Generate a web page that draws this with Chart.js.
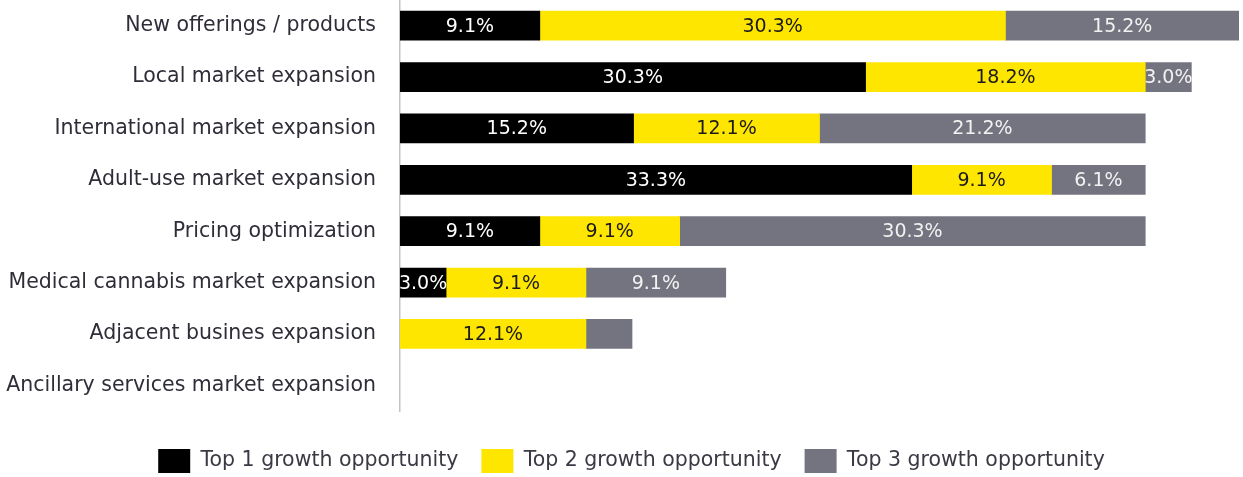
<!DOCTYPE html>
<html>
<head>
<meta charset="utf-8">
<script src="https://cdn.jsdelivr.net/npm/chart.js@4.4.1/dist/chart.umd.min.js"></script>
<style>
  html, body { margin:0; padding:0; background:#fff; }
  #wrap { width:1243px; height:477px; }
</style>
</head>
<body>
<div id="wrap"><canvas id="growth"></canvas></div>
<script>
// ── Growth opportunities, stacked horizontal bars ──
var categories = [
  'New offerings / products',
  'Local market expansion',
  'International market expansion',
  'Adult-use market expansion',
  'Pricing optimization',
  'Medical cannabis market expansion',
  'Adjacent busines expansion',
  'Ancillary services market expansion'
];
var seriesNames = ['Top 1 growth opportunity', 'Top 2 growth opportunity', 'Top 3 growth opportunity'];
var top1 = [9.1, 30.3, 15.2, 33.3, 9.1, 3.0, null, null];
var top2 = [30.3, 18.2, 12.1, 9.1, 9.1, 9.1, 12.1, null];
var top3 = [15.2, 3.0, 21.2, 6.1, 30.3, 9.1, 3.0, null];
// segments printed without a value label: [series, row]
var unlabeled = [[2, 6]];

var FONT = '"DejaVu Sans", sans-serif';
var FONT_SIZE = 20.5;
var colors = ['#000000', '#ffe600', '#747480'];
var labelColors = ['#ffffff', '#1a1a1a', '#f2f2f2'];

function isUnlabeled(ds, i){
  return unlabeled.some(function(u){ return u[0]===ds && u[1]===i; });
}

// value labels centred in each segment
var segLabels = {
  id: 'segLabels',
  afterDatasetsDraw: function(chart){
    var ctx = chart.ctx;
    ctx.save();
    ctx.font = '19px ' + FONT;
    ctx.textAlign = 'center';
    ctx.textBaseline = 'middle';
    chart.data.datasets.forEach(function(ds, di){
      chart.getDatasetMeta(di).data.forEach(function(bar, i){
        var v = ds.data[i];
        if(v == null || isUnlabeled(di, i)) return;
        var cx = (bar.x + bar.base) / 2;
        ctx.fillStyle = labelColors[di];
        ctx.fillText(v.toFixed(1) + '%', cx, bar.y + 1);
      });
    });
    ctx.restore();
  }
};

// nudge the legend row a little lower and to the right
var legendShift = {
  id: 'legendShift',
  afterLayout: function(chart){
    var lg = chart.legend;
    if(!lg) return;
    lg.top += 6; lg.bottom += 6;
    lg.left += 12; lg.right += 12;
  }
};

var ctx = document.getElementById('growth');
new Chart(ctx, {
  type: 'bar',
  data: {
    labels: categories,
    datasets: [
      { label: seriesNames[0], data: top1, backgroundColor: colors[0] },
      { label: seriesNames[1], data: top2, backgroundColor: colors[1] },
      { label: seriesNames[2], data: top3, backgroundColor: colors[2] }
    ]
  },
  options: {
    indexAxis: 'y',
    responsive: true,
    maintainAspectRatio: false,
    animation: false,
    layout: { padding: { left: 0, right: 4, top: 0, bottom: 0 } },
    datasets: { bar: { barThickness: 29, borderWidth: 0 } },
    scales: {
      x: {
        stacked: true, min: 0, max: 54.6,
        grid: { display: false },
        border: { display: false },
        ticks: { display: false },
        afterFit: function(s){ s.height = 9; }
      },
      y: {
        stacked: true,
        grid: { display: false, drawTicks: false },
        border: { display: true, color: '#c4c4c8', width: 1.5 },
        ticks: { color: '#2e2e38', font: { family: FONT, size: FONT_SIZE }, padding: 24 },
        afterFit: function(s){ s.width = 400; s.paddingTop = 0; s.paddingBottom = 0; }
      }
    },
    plugins: {
      legend: {
        position: 'bottom',
        labels: {
          color: '#3a3a44',
          font: { family: FONT, size: FONT_SIZE },
          boxWidth: 32, boxHeight: 24,
          padding: 23
        }
      },
      tooltip: { enabled: false }
    }
  },
  plugins: [segLabels, legendShift]
});
</script>
</body>
</html>
